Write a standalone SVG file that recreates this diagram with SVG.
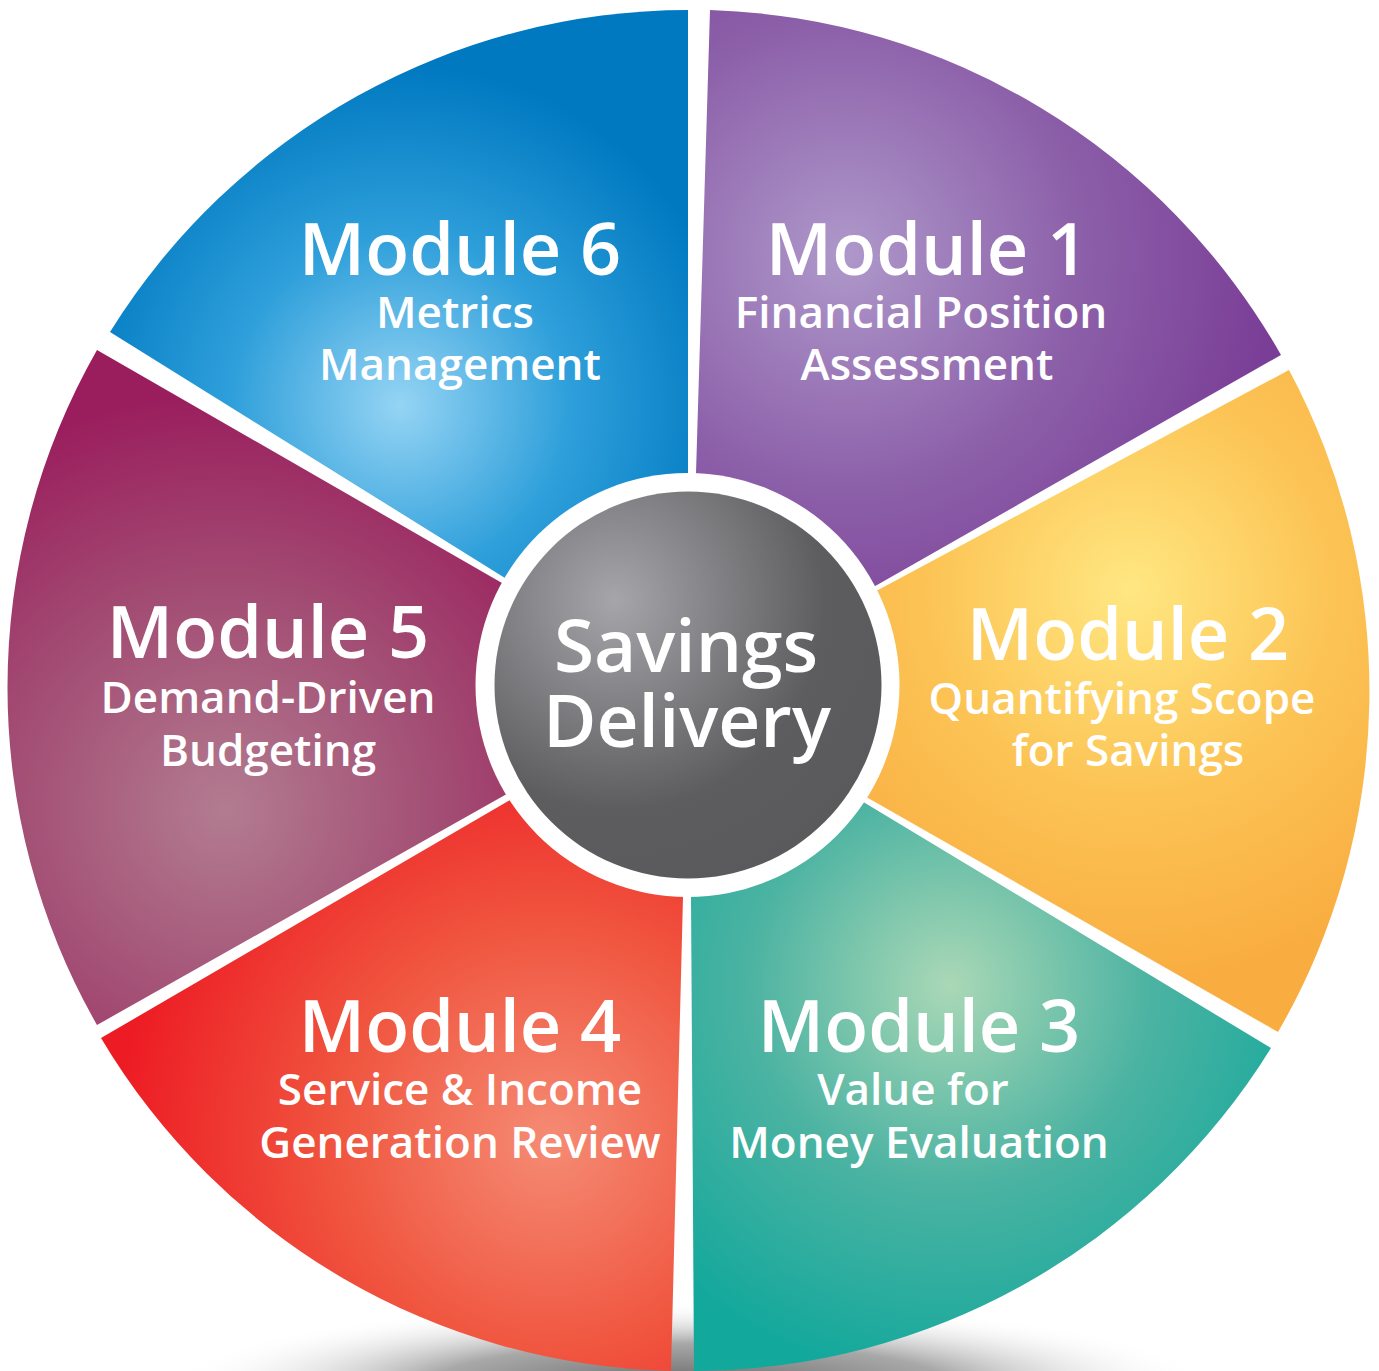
<svg xmlns="http://www.w3.org/2000/svg" width="1379" height="1371" viewBox="0 0 1379 1371">
<defs>
<radialGradient id="gShadow" gradientUnits="userSpaceOnUse" cx="690" cy="1385" r="520" gradientTransform="translate(690 1385) scale(1 0.16) translate(-690 -1385)">
<stop offset="0" stop-color="#6a6a6a"/>
<stop offset="0.5" stop-color="#a8a8a8"/>
<stop offset="1" stop-color="#ffffff" stop-opacity="0"/>
</radialGradient>
<radialGradient id="g6" gradientUnits="userSpaceOnUse" cx="400" cy="405" r="340">
<stop offset="0" stop-color="#95D4F4"/>
<stop offset="0.5" stop-color="#2E9FDA"/>
<stop offset="1" stop-color="#0079C1"/>
</radialGradient>
<radialGradient id="g1" gradientUnits="userSpaceOnUse" cx="845" cy="255" r="430">
<stop offset="0" stop-color="#AE98CA"/>
<stop offset="0.55" stop-color="#8C5FA9"/>
<stop offset="1" stop-color="#7A3E97"/>
</radialGradient>
<radialGradient id="g2" gradientUnits="userSpaceOnUse" cx="1130" cy="590" r="400">
<stop offset="0" stop-color="#FFE782"/>
<stop offset="0.5" stop-color="#FCC455"/>
<stop offset="1" stop-color="#F9AC40"/>
</radialGradient>
<radialGradient id="g3" gradientUnits="userSpaceOnUse" cx="950" cy="985" r="400">
<stop offset="0" stop-color="#AAD8B6"/>
<stop offset="0.5" stop-color="#4CB3A2"/>
<stop offset="1" stop-color="#12A89C"/>
</radialGradient>
<radialGradient id="g4" gradientUnits="userSpaceOnUse" cx="550" cy="1140" r="430">
<stop offset="0" stop-color="#F58B74"/>
<stop offset="0.5" stop-color="#F0553F"/>
<stop offset="1" stop-color="#ED1C24"/>
</radialGradient>
<radialGradient id="g5" gradientUnits="userSpaceOnUse" cx="225" cy="810" r="420">
<stop offset="0" stop-color="#B27C90"/>
<stop offset="0.55" stop-color="#A24A72"/>
<stop offset="1" stop-color="#9A1D5D"/>
</radialGradient>
<radialGradient id="gC" gradientUnits="userSpaceOnUse" cx="615" cy="600" r="300">
<stop offset="0" stop-color="#A6A5AA"/>
<stop offset="0.7" stop-color="#5D5D5F"/>
<stop offset="1" stop-color="#5A5A5C"/>
</radialGradient>
</defs>
<style>
.t{font-family:"Open Sans","Noto Sans","Liberation Sans",sans-serif;font-weight:600;fill:#ffffff;text-anchor:middle;}
.h{font-size:72px;}
.s{font-size:44px;}
.c{font-size:73px;}
</style>
<rect width="1379" height="1371" fill="#ffffff"/>
<ellipse cx="690" cy="1385" rx="520" ry="84" fill="url(#gShadow)"/>
<g id="connectors"></g>
<g id="module6">
<path d="M688 473 L688 10 A681 681 0 0 0 110 332 L505 578 L687 685 Z" fill="url(#g6)"/>
<text class="t h" x="460" y="275">Module 6</text>
<text class="t s" x="455" y="328">Metrics</text>
<text class="t s" x="460" y="380">Management</text>
</g>
<g id="module1">
<path d="M696 473 L710 10 A681 681 0 0 1 1281 355 L877 585 L687 685 Z" fill="url(#g1)"/>
<text class="t h" x="927" y="275">Module 1</text>
<text class="t s" x="921" y="328">Financial Position</text>
<text class="t s" x="927" y="380">Assessment</text>
</g>
<g id="module2">
<path d="M878 590 L1289 370 A681 681 0 0 1 1278 1032 L868 798 L687 685 Z" fill="url(#g2)"/>
<text class="t h" x="1128" y="660">Module 2</text>
<text class="t s" x="1122" y="714">Quantifying Scope</text>
<text class="t s" x="1128" y="766">for Savings</text>
</g>
<g id="module3">
<path d="M865 803 L1271 1048 A681 681 0 0 1 694 1371 L691 897 L687 685 Z" fill="url(#g3)"/>
<text class="t h" x="919" y="1052">Module 3</text>
<text class="t s" x="913" y="1105">Value for</text>
<text class="t s" x="919" y="1158">Money Evaluation</text>
</g>
<g id="module4">
<path d="M683 897 L671 1371 A681 681 0 0 1 101 1038 L510 800 L687 685 Z" fill="url(#g4)"/>
<text class="t h" x="460" y="1052">Module 4</text>
<text class="t s" x="460" y="1105">Service &amp; Income</text>
<text class="t s" x="460" y="1158">Generation Review</text>
</g>
<g id="module5">
<path d="M505 795 L97 1025 A681 681 0 0 1 97 350 L502 583 L687 685 Z" fill="url(#g5)"/>
<text class="t h" x="268" y="658">Module 5</text>
<text class="t s" x="268" y="713">Demand-Driven</text>
<text class="t s" x="268" y="766">Budgeting</text>
</g>
<g id="center">
<circle cx="687.5" cy="685" r="212" fill="#ffffff"/>
<circle cx="688" cy="685" r="193.5" fill="url(#gC)"/>
<text class="t c" x="686" y="672">Savings</text>
<text class="t c" x="687" y="747">Delivery</text>
</g>
</svg>
